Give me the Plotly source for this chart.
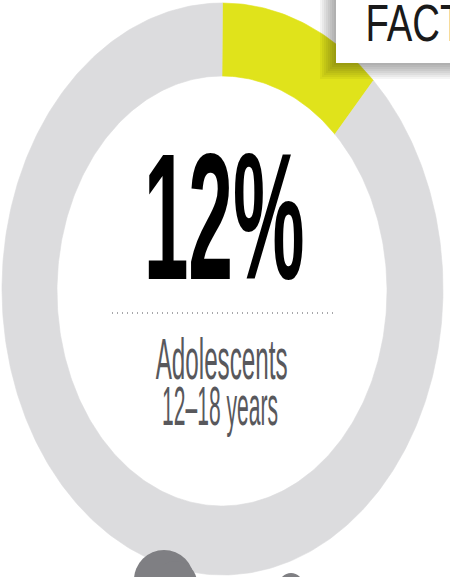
import numpy as np
import plotly.graph_objects as go

# ---------------- data ----------------
labels = ["Adolescents 12–18 years", "Other ages"]
shares = [12, 88]
headline = "12%"
caption_lines = ["Adolescents", "12–18 years"]
badge = "FACT"

slice_colors = ["#e0e31b", "#dcdcde"]

W, H = 450, 577
OUT = dict(cx=222.5, cy=289, rx=220.5, ry=286)
INN = dict(cx=222.0, cy=291, rx=165, ry=215)

fig = go.Figure()

total = float(sum(shares))
start = 0.0
for lab, v, c in zip(labels, shares, slice_colors):
    a0 = start / total * 2 * np.pi
    a1 = (start + v) / total * 2 * np.pi
    t = np.linspace(a0, a1, max(12, int(v * 4)))
    xo = OUT["cx"] + OUT["rx"] * np.sin(t)
    yo = OUT["cy"] - OUT["ry"] * np.cos(t)
    ti = t[::-1]
    xi = INN["cx"] + INN["rx"] * np.sin(ti)
    yi = INN["cy"] - INN["ry"] * np.cos(ti)
    x = np.concatenate([xo, xi, xo[:1]])
    y = np.concatenate([yo, yi, yo[:1]])
    fig.add_trace(go.Scatter(x=x, y=y, mode="lines", fill="toself",
                             fillcolor=c, line=dict(color=c, width=0.6),
                             name=lab, hoverinfo="skip", showlegend=False))
    start += v

shapes = []
# decorative grey blobs at the bottom
for (cx, cy, r) in [(164, 580, 30), (175, 583, 22), (291, 585, 12)]:
    shapes.append(dict(type="circle", xref="x", yref="y",
                       x0=cx - r, x1=cx + r, y0=cy - r, y1=cy + r,
                       fillcolor="#7f7f83", line=dict(width=0)))

# FACT badge with soft shadow
bx0, by1 = 336, 63
for i in range(8):
    d = 2 * (8 - i)
    shapes.append(dict(type="rect", xref="x", yref="y",
                       x0=bx0 - d, x1=470, y0=-10, y1=by1 + d,
                       fillcolor="rgba(0,0,0,0.045)", line=dict(width=0)))
shapes.append(dict(type="rect", xref="x", yref="y", x0=bx0, x1=470,
                   y0=-10, y1=by1, fillcolor="white", line=dict(width=0)))

# dotted divider
shapes.append(dict(type="line", xref="x", yref="y", x0=112, x1=333, y0=313, y1=313,
                   line=dict(color="#8a8a8e", width=1.6, dash="1px,4px")))

NARROW = "Liberation Sans Narrow, Liberation Sans, Arial Narrow, sans-serif"
annotations = [
    dict(x=223.5, y=216.6, text=headline, showarrow=False, xanchor="center", yanchor="middle",
         font=dict(family=NARROW, size=180, color="#000000", weight="bold")),
    dict(x=221, y=361, text=caption_lines[0], showarrow=False, xanchor="center", yanchor="middle",
         font=dict(family=NARROW, size=52, color="#58585c")),
    dict(x=220, y=407, text=caption_lines[1], showarrow=False, xanchor="center", yanchor="middle",
         font=dict(family=NARROW, size=52, color="#58585c")),
    dict(x=414, y=23, text=badge, showarrow=False, xanchor="center", yanchor="middle",
         font=dict(family=NARROW, size=52, color="#1a1a1a")),
]

fig.update_layout(
    width=W, height=H, margin=dict(l=0, r=0, t=0, b=0),
    paper_bgcolor="white", plot_bgcolor="white",
    xaxis=dict(range=[0, W], visible=False, fixedrange=True),
    yaxis=dict(range=[H, 0], visible=False, fixedrange=True),
    shapes=shapes, annotations=annotations, showlegend=False,
)

js = """
var gd = document.getElementById('{plot_id}');
var targets = {"12%": [161, 1.0], "Adolescents": [132, 1.1], "12\u201318 years": [116, 1.06], "FACT": [98, 1.0]};
function squeeze(){
  var texts = gd.querySelectorAll('text.annotation-text');
  texts.forEach(function(t){
    var key = t.textContent;
    if(!(key in targets)) return;
    t.removeAttribute('transform');
    var b = t.getBBox();
    if(!b.width) return;
    var sx = targets[key][0] / b.width;
    var sy = targets[key][1];
    var cx = b.x + b.width / 2;
    var by = b.y + b.height * 0.81;
    t.setAttribute('transform', 'translate(' + cx + ',' + by + ') scale(' + sx + ',' + sy + ') translate(' + (-cx) + ',' + (-by) + ')');
  });
}
squeeze();
if (gd.on) gd.on('plotly_afterplot', squeeze);
setTimeout(squeeze, 50);
setTimeout(squeeze, 300);
if (document.fonts && document.fonts.ready) document.fonts.ready.then(squeeze);
"""

fig.write_html("out.html", config=dict(displayModeBar=False, staticPlot=True), post_script=js)
